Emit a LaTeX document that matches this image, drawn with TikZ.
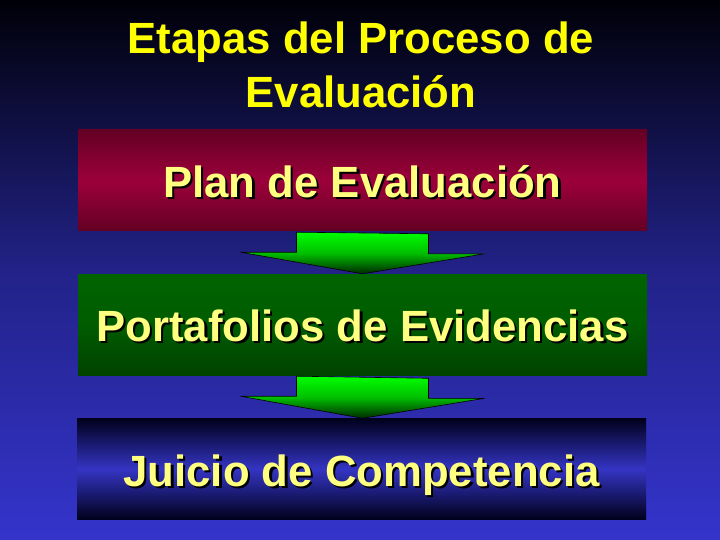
\documentclass[tikz,border=0pt]{standalone}
\usepackage{fontspec}
\setmainfont{Liberation Sans}
\usepackage{tikz}
\usetikzlibrary{calc}
\usetikzlibrary{positioning}
\definecolor{fondoalto}{RGB}{0, 0, 8}
\definecolor{fondomedio}{RGB}{34, 34, 136}
\definecolor{fondobajo}{RGB}{52, 52, 204}
\definecolor{amarillo}{RGB}{255, 255, 0}
\definecolor{crema}{RGB}{255, 255, 128}
\definecolor{granate}{RGB}{156, 0, 58}
\definecolor{granateosc}{RGB}{100, 0, 36}
\definecolor{verde}{RGB}{0, 100, 0}
\definecolor{verdeosc}{RGB}{0, 66, 0}
\definecolor{azul}{RGB}{52, 52, 196}
\definecolor{azulosc}{RGB}{0, 0, 28}
\definecolor{lima}{RGB}{0, 255, 0}
\definecolor{limaosc}{RGB}{0, 40, 0}
\newcommand{\conSombra}[1]{\makebox[0pt][l]{\hspace{2.2pt}\raisebox{-2.2pt}{\textcolor{black}{#1}}}#1}

\begin{document}
\begin{tikzpicture}[x=1pt, y=-1pt,
    titulo/.style={text=amarillo, anchor=base, font=\fontsize{43.7}{52}\selectfont\bfseries},
    etapa/.style={minimum width=569pt, minimum height=101pt, inner sep=0pt,
                  text height=34pt, text depth=0pt, text=crema,
                  font=\fontsize{43.7}{52}\selectfont\bfseries},
    flecha/.style={draw=black, line width=0.6pt, top color=lima, bottom color=limaosc,
                   middle color=lima!75!black}]
    % Background
    \useasboundingbox (0,0) rectangle (720,540);
    \shade[top color=fondoalto, bottom color=fondobajo, middle color=fondomedio] (0,0) rectangle (720,540);
    % Title
    \node[titulo] (titulo1) at (361,54) {Etapas del Proceso de};
    \node[titulo] (titulo2) at (361,108) {Evaluación};
    % Stages
    \node[etapa, top color=granateosc, bottom color=granateosc, middle color=granate]
        (plan) at (362.5,180.5) {\conSombra{Plan de Evaluación}};
    \node[etapa, top color=verde, bottom color=verdeosc, middle color=verde!92!black]
        (portafolios) at (362.5,324.5) {\conSombra{Portafolios de Evidencias}};
    \node[etapa, top color=azulosc, bottom color=azulosc, middle color=azul]
        (juicio) at (361.5,469) {\conSombra{Juicio de Competencia}};
    % Arrows between stages
    \path[flecha] ($(plan.south)+(-66,1)$) -- ++(0,20) -- ++(-56,0) -- (portafolios.north)
        -- ++(122,-20) -- ++(-56,0) -- ++(0,-20) -- cycle;
    \path[flecha] ($(portafolios.south)+(-66,1)$) -- ++(0,20) -- ++(-56,0) -- ($(juicio.north)+(1,0)$)
        -- ++(122,-20) -- ++(-56,0) -- ++(0,-20) -- cycle;
\end{tikzpicture}
\end{document}
